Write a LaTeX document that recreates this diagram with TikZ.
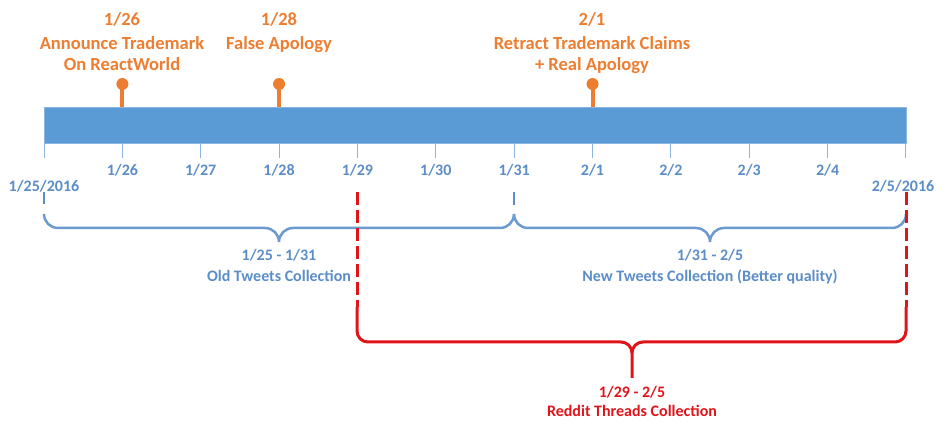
\documentclass[tikz,border=0pt]{standalone}
\usepackage{fontspec}
\setmainfont{Carlito}
\definecolor{barblue}{HTML}{5B9BD5}
\definecolor{tickblue}{HTML}{8DB5E2}
\definecolor{textblue}{HTML}{5B8DC8}
\definecolor{braceblue}{HTML}{6A9AD0}
\definecolor{evorange}{HTML}{ED7D31}
\definecolor{redthread}{HTML}{E0141B}
\tikzset{
  timebar/.style={draw=tickblue,fill=barblue,line width=0.8pt},
  daytick/.style={draw=tickblue,line width=1pt},
  daylabel/.style={text=textblue,font=\bfseries\fontsize{16}{18}\selectfont,inner sep=0pt},
  eventlabel/.style={text=evorange,font=\bfseries\fontsize{18.5}{21}\selectfont,align=center,inner sep=0pt,anchor=north},
  pinhead/.style={circle,fill=evorange,minimum size=12pt,inner sep=0pt},
  pinstem/.style={draw=evorange,line width=4pt},
  endtick/.style={draw=textblue,line width=2.5pt},
  bluebrace/.style={draw=braceblue,line width=2.5pt},
  redbrace/.style={draw=redthread,line width=3pt},
  reddash/.style={draw=redthread,line width=3pt,dash pattern=on 13pt off 5pt},
  spanlabel/.style={text=textblue,font=\bfseries\fontsize{16}{21}\selectfont,align=center,inner sep=0pt},
  redlabel/.style={text=redthread,font=\bfseries\fontsize{16}{19}\selectfont,align=center,inner sep=0pt}
}
\begin{document}
\begin{tikzpicture}[x=1pt,y=1pt]
  \useasboundingbox (0,0) rectangle (946,-430);
  % Timeline bar
  \node[timebar,minimum width=862pt,minimum height=36pt,inner sep=0pt] (bar) at (475,-125) {};
  % Day ticks and labels
  \foreach \i/\d in {0/,1/1\slash 26,2/1\slash 27,3/1\slash 28,4/1\slash 29,5/1\slash 30,
                     6/1\slash 31,7/2\slash 1,8/2\slash 2,9/2\slash 3,10/2\slash 4,11/}{
    \coordinate (t\i) at ({44+78.36*\i},-143);
    \draw[daytick] (t\i) -- ++(0,-15);
    \node[daylabel] (d\i) at ({44+78.36*\i},-170) {\d};
  }
  \node[daylabel] (start) at (44,-186) {1/25/2016};
  \node[daylabel] (end) at (903,-186) {2/5/2016};
  % Events above the bar
  \node[pinhead] (p1) at (t1 |- 0,-84) {};
  \node[pinhead] (p3) at (t3 |- 0,-84) {};
  \node[pinhead] (p7) at (t7 |- 0,-84) {};
  \foreach \p in {p1,p3,p7}
    \draw[pinstem] (\p.center) -- (\p |- bar.north);
  \node[eventlabel] (e1) at (122,-12) {1/26\\[3pt]Announce Trademark\\On ReactWorld};
  \node[eventlabel] (e3) at (279,-12) {1/28\\[3pt]False Apology};
  \node[eventlabel] (e7) at (592,-12) {2/1\\[3pt]Retract Trademark Claims\\+ Real Apology};
  % Tweet collections (blue braces)
  \coordinate (b0) at (44,-214);
  \coordinate (b6) at (514,-214);
  \coordinate (b11) at (906,-214);
  \draw[endtick] (44,-192) -- (44,-204);
  \draw[endtick] (b6) ++(0,22) -- (514,-205);
  \draw[endtick] (906,-192) -- (906,-205);
  \coordinate (oldtip) at (279,-242);
  \coordinate (newtip) at (710,-242);
  \draw[bluebrace] (b0) to[out=-90,in=180] (58,-228) -- (265,-228) to[out=0,in=90] (oldtip)
    to[out=90,in=180] (293,-228) -- (500,-228) to[out=0,in=-90] (b6);
  \draw[bluebrace] (b6) to[out=-90,in=180] (528,-228) -- (696,-228) to[out=0,in=90] (newtip)
    to[out=90,in=180] (724,-228) -- (892,-228) to[out=0,in=-90] (b11);
  \node[spanlabel,anchor=north] (old) at (279,-249) {1/25 - 1/31\\Old Tweets Collection};
  \node[spanlabel,anchor=north] (new) at (710,-249) {1/31 - 2/5\\New Tweets Collection (Better quality)};
  % Reddit collection (red bracket)
  \coordinate (r4) at (357,-192);
  \coordinate (r11) at (906,-192);
  \coordinate (redtip) at (632,-378);
  \draw[reddash] (r4) -- (357,-307);
  \draw[reddash] (r11) -- (906,-307);
  \draw[redbrace] (357,-307) -- (357,-331) to[out=-90,in=180] (368,-342) -- (621,-342)
    to[out=0,in=90] (632,-353) -- (redtip);
  \draw[redbrace] (632,-353) to[out=90,in=180] (643,-342) -- (895,-342)
    to[out=0,in=-90] (906,-331) -- (906,-307);
  \node[redlabel,anchor=north] (reddit) at (redtip |- 0,-386) {1/29 - 2/5\\Reddit Threads Collection};
\end{tikzpicture}
\end{document}
